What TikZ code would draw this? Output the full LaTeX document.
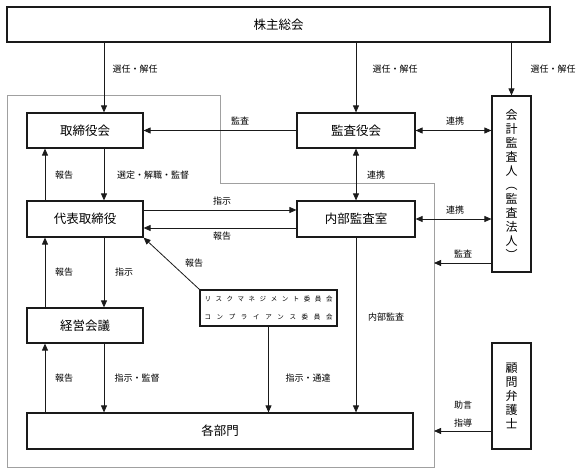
\documentclass[tikz,border=0pt]{standalone}
\usepackage{fontspec}
\setmainfont{Noto Sans CJK JP}
\usepackage{tikz}
\usetikzlibrary{arrows.meta, positioning, calc}
\definecolor{framegray}{HTML}{A0A0A0}
\definecolor{inkblack}{HTML}{1A1A1A}
\tikzset{
  unitbox/.style={draw=inkblack, line width=1.2pt, fill=white, inner sep=0pt, font=\fontsize{12.5}{14}\selectfont},
  vbox/.style={unitbox, align=center, font=\fontsize{12}{14}\selectfont},
  lbl/.style={font=\fontsize{9}{10}\selectfont, inner sep=1pt},
  arr/.style={-{Triangle[length=7pt,width=6pt]}, line width=0.8pt, draw=inkblack},
  darr/.style={{Triangle[length=7pt,width=6pt]}-{Triangle[length=7pt,width=6pt]}, line width=0.8pt, draw=inkblack}
}
\begin{document}
\begin{tikzpicture}[x=1pt, y=-1pt]
    \useasboundingbox (0,0) rectangle (581,473);
    % company frame
    \draw[framegray, line width=1pt] (7,96) -- (220,96) -- (220,184) -- (434,184) -- (434,467) -- (7,467) -- cycle;
    \coordinate (frameR) at (434,0);
    % boxes
    \node[unitbox, minimum width=543pt, minimum height=35pt] (soukai) at (278.5,24.5) {株主総会};
    \node[unitbox, minimum width=116pt, minimum height=35pt] (tkai) at (85,130.5) {取締役会};
    \node[unitbox, minimum width=116pt, minimum height=36pt] (daihyo) at (85,219) {代表取締役};
    \node[unitbox, minimum width=116pt, minimum height=35pt] (keiei) at (85,325.5) {経営会議};
    \node[unitbox, minimum width=386pt, minimum height=36pt] (bumon) at (220,431) {各部門};
    \node[unitbox, minimum width=118pt, minimum height=35pt] (kansa) at (356,130.5) {監査役会};
    \node[unitbox, minimum width=118pt, minimum height=36pt] (naibu) at (356,219) {内部監査室};
    \node[vbox, minimum width=39pt, minimum height=176pt] (kaikei) at (511.5,184) {会\\計\\監\\査\\人\\︵\\監\\査\\法\\人\\︶};
    \node[vbox, minimum width=39pt, minimum height=106pt] (komon) at (511.5,396) {顧\\問\\弁\\護\\士};
    \node[unitbox, minimum width=137pt, minimum height=36pt, align=center, font=\fontsize{6.5}{18}\selectfont] (risk) at (268.5,308)
      {\makebox[128pt]{リ\hfill ス\hfill ク\hfill マ\hfill ネ\hfill ジ\hfill メ\hfill ン\hfill ト\hfill 委\hfill 員\hfill 会}\\
       \makebox[128pt]{コ\hfill ン\hfill プ\hfill ラ\hfill イ\hfill ア\hfill ン\hfill ス\hfill 委\hfill 員\hfill 会}};
    % appointment
    \draw[arr] ([xshift=19pt]tkai.north |- soukai.south) -- ([xshift=19pt]tkai.north);
    \draw[arr] (kansa.north |- soukai.south) -- (kansa.north);
    \draw[arr] (kaikei.north |- soukai.south) -- (kaikei.north);
    \node[lbl] (l1) at (135,69) {選任・解任};
    \node[lbl] (l2) at (395,69) {選任・解任};
    \node[lbl] (l3) at (553,69) {選任・解任};
    % audit board links
    \draw[arr] (kansa.west) -- (tkai.east);
    \node[lbl] (l4) at (240,121) {監査};
    \draw[darr] (kansa.east) -- (kansa.east -| kaikei.west);
    \node[lbl] (l5) at (455,121) {連携};
    \draw[darr] (kansa.south) -- (naibu.north);
    \node[lbl] (l6) at (376,175) {連携};
    \draw[darr] (naibu.east) -- (naibu.east -| kaikei.west);
    \node[lbl] (l7) at (455,210) {連携};
    % president and internal audit
    \draw[arr] ([yshift=9pt]daihyo.east) -- ([yshift=9pt]daihyo.east -| naibu.west);
    \node[lbl] (l8) at (222,201) {指示};
    \draw[arr] ([yshift=-9pt]naibu.west) -- ([yshift=-9pt]naibu.west -| daihyo.east);
    \node[lbl] (l9) at (222,236) {報告};
    % left column
    \draw[arr] ([xshift=19pt]tkai.south) -- ([xshift=19pt]daihyo.north);
    \node[lbl] (l10) at (153,175) {選定・解職・監督};
    \draw[arr] ([xshift=-40pt]daihyo.north) -- ([xshift=-40pt]tkai.south);
    \node[lbl] (l11) at (64,175) {報告};
    \draw[arr] ([xshift=19pt]daihyo.south) -- ([xshift=19pt]keiei.north);
    \node[lbl] (l12) at (124,272) {指示};
    \draw[arr] ([xshift=-40pt]keiei.north) -- ([xshift=-40pt]daihyo.south);
    \node[lbl] (l13) at (64,272) {報告};
    \draw[arr] ([xshift=19pt]keiei.south) -- ([xshift=19pt]keiei.south |- bumon.north);
    \node[lbl] (l14) at (137,378) {指示・監督};
    \draw[arr] ([xshift=-40pt]keiei.south |- bumon.north) -- ([xshift=-40pt]keiei.south);
    \node[lbl] (l15) at (64,378) {報告};
    % committees
    \draw[arr] (risk.north west) -- (daihyo.south east);
    \node[lbl] (l16) at (194,263) {報告};
    \draw[arr] (risk.south) -- (risk.south |- bumon.north);
    \node[lbl] (l17) at (308,378) {指示・通達};
    \draw[arr] (naibu.south) -- (naibu.south |- bumon.north);
    \node[lbl] (l18) at (386,317) {内部監査};
    % outside
    \draw[arr] ([yshift=-79pt]kaikei.west) -- ([yshift=-79pt]kaikei.west -| frameR);
    \node[lbl] (l19) at (463,254) {監査};
    \draw[arr] ([yshift=-35pt]komon.west) -- ([yshift=-35pt]komon.west -| frameR);
    \node[lbl] (l20) at (463,405) {助言};
    \node[lbl] (l21) at (463,423) {指導};
\end{tikzpicture}
\end{document}
